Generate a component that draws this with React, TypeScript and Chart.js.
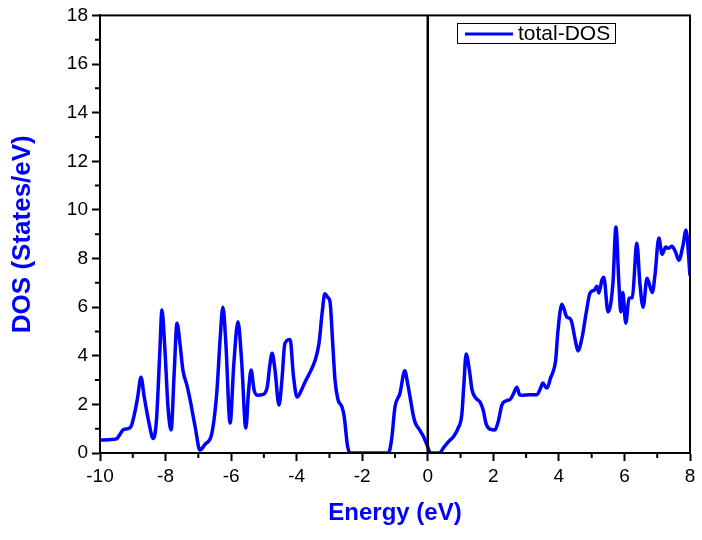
import React, { useEffect, useRef } from "react";
import { Chart, registerables } from "chart.js";

Chart.register(...registerables);

const energy: number[] = [
  -10, -9.7, -9.5, -9.4, -9.3, -9.15, -9.05, -8.95, -8.85, -8.75, -8.65, -8.5, -8.38, -8.28, -8.18, -8.11,
  -8.03, -7.92, -7.83, -7.74, -7.65, -7.56, -7.47, -7.35, -7.25, -7.1, -6.95, -6.8, -6.6, -6.5, -6.43,
  -6.33, -6.25, -6.16, -6.03, -5.92, -5.79, -5.68, -5.55, -5.47, -5.39, -5.3, -5.2, -5.05, -4.9, -4.82,
  -4.75, -4.66, -4.54, -4.45, -4.36, -4.2, -4.1, -3.99, -3.85, -3.75, -3.6, -3.44, -3.32, -3.22, -3.14,
  -3.05, -2.98, -2.9, -2.83, -2.74, -2.62, -2.55, -2.45, -2.37, -1.2, -1.1, -1.0, -0.85, -0.7, -0.62,
  -0.54, -0.45, -0.39, -0.25, -0.14, 0.0, 0.07, 0.35, 0.5, 0.62, 0.8, 0.92, 1.04, 1.1, 1.17, 1.27, 1.35,
  1.47, 1.59, 1.69, 1.78, 1.9, 2.05, 2.15, 2.26, 2.4, 2.51, 2.6, 2.72, 2.8, 2.87, 3.1, 3.33, 3.45, 3.51,
  3.6, 3.64, 3.75, 3.82, 3.9, 3.97, 4.09, 4.24, 4.37, 4.5, 4.58, 4.71, 4.83, 4.95, 5.08, 5.16, 5.22, 5.31,
  5.37, 5.5, 5.65, 5.74, 5.83, 5.89, 5.95, 6.04, 6.14, 6.24, 6.38, 6.47, 6.57, 6.69, 6.85, 6.93, 7.05,
  7.15, 7.26, 7.33, 7.45, 7.55, 7.66, 7.78, 7.88, 8.0,
];

const totalDos: number[] = [
  0.53, 0.55, 0.58, 0.75, 0.95, 1.0, 1.1, 1.6, 2.3, 3.12, 2.3, 1.2, 0.6, 1.3, 4.0, 5.88,
  4.5, 1.8, 0.95, 3.2, 5.34, 4.5, 3.4, 2.8, 2.18, 1.1, 0.12, 0.35, 0.74, 1.6, 2.6,
  4.8, 6.0, 4.5, 1.23, 3.6, 5.4, 3.8, 1.03, 2.5, 3.41, 2.6, 2.38, 2.4, 2.7, 3.6,
  4.1, 3.4, 1.97, 3.0, 4.5, 4.67, 3.2, 2.3, 2.6, 2.9, 3.3, 3.8, 4.5, 5.8, 6.55,
  6.4, 6.2, 4.5, 3.0, 2.2, 1.9, 1.5, 0.3, 0.0, 0.0, 0.6, 1.9, 2.45, 3.38, 2.9,
  2.3, 1.6, 1.27, 0.95, 0.7, 0.25, 0.0, 0.0, 0.25, 0.45, 0.7, 1.0, 1.6, 2.8, 4.07, 3.4, 2.6,
  2.25, 2.1, 1.77, 1.2, 0.98, 0.95, 1.3, 1.97, 2.15, 2.2, 2.4, 2.7, 2.4, 2.38, 2.4, 2.4, 2.7, 2.88,
  2.7, 2.67, 3.1, 3.33, 3.8, 5.0, 6.12, 5.6, 5.47, 4.64, 4.2, 4.77, 5.75, 6.58, 6.7, 6.86, 6.58, 7.1,
  7.23, 5.8, 7.0, 9.3, 7.0, 5.8, 6.6, 5.34, 6.37, 6.4, 8.63, 7.0, 6.0, 7.19, 6.6, 7.3, 8.84,
  8.18, 8.47, 8.42, 8.5, 8.3, 7.93, 8.5, 9.17, 7.3,
];

const seriesLabel = "total-DOS";
const xTitle = "Energy (eV)";
const yTitle = "DOS (States/eV)";
const xMin = -10;
const xMax = 8;
const yMin = 0;
const yMax = 18;
const fermiLevel = 0;

const FONT = "'Liberation Sans', Arial, sans-serif";
const BLUE = "#0000ff";

const framePlugin = {
  id: "frameAndExtras",
  afterDatasetsDraw(chart: any) {
    const { ctx, chartArea } = chart;
    const xs = chart.scales.x;
    const ys = chart.scales.y;
    ctx.save();
    // Fermi level line
    const x0 = xs.getPixelForValue(fermiLevel);
    ctx.strokeStyle = "#000";
    ctx.lineWidth = 2.5;
    ctx.beginPath();
    ctx.moveTo(x0, chartArea.top);
    ctx.lineTo(x0, chartArea.bottom);
    ctx.stroke();
    // frame
    ctx.lineWidth = 2;
    ctx.strokeRect(chartArea.left, chartArea.top, chartArea.right - chartArea.left, chartArea.bottom - chartArea.top);
    // minor ticks
    ctx.beginPath();
    for (let v = xMin + 1; v < xMax; v += 2) {
      const px = xs.getPixelForValue(v);
      ctx.moveTo(px, chartArea.bottom);
      ctx.lineTo(px, chartArea.bottom + 5);
    }
    for (let v = yMin + 1; v < yMax; v += 2) {
      const py = ys.getPixelForValue(v);
      ctx.moveTo(chartArea.left, py);
      ctx.lineTo(chartArea.left - 5, py);
    }
    ctx.stroke();
    // legend
    const bx = 457, by = 23, bw = 158, bh = 20;
    ctx.lineWidth = 1;
    ctx.strokeStyle = "#000";
    ctx.fillStyle = "#fff";
    ctx.fillRect(bx, by, bw, bh);
    ctx.strokeRect(bx + 0.5, by + 0.5, bw, bh);
    ctx.strokeStyle = BLUE;
    ctx.lineWidth = 3;
    ctx.beginPath();
    ctx.moveTo(bx + 8, by + 11);
    ctx.lineTo(bx + 56, by + 11);
    ctx.stroke();
    ctx.fillStyle = "#000";
    ctx.font = `21px ${FONT}`;
    ctx.textBaseline = "middle";
    ctx.textAlign = "left";
    ctx.fillText(chart.data.datasets[0].label, bx + 61, by + 11.5);
    ctx.restore();
  },
};

export default function App() {
  const ref = useRef<HTMLCanvasElement | null>(null);
  useEffect(() => {
    if (!ref.current) return;
    const chart = new Chart(ref.current, {
      type: "line",
      data: {
        datasets: [
          {
            label: seriesLabel,
            data: energy.map((e, i) => ({ x: e, y: totalDos[i] })),
            borderColor: BLUE,
            backgroundColor: BLUE,
            borderWidth: 3.5,
            pointRadius: 0,
            cubicInterpolationMode: "monotone",
            fill: false,
          },
        ],
      },
      options: {
        animation: false,
        responsive: false,
        maintainAspectRatio: false,
        layout: { padding: { left: 0, right: 12, top: 15, bottom: 0 } },
        plugins: { legend: { display: false }, tooltip: { enabled: false } },
        scales: {
          x: {
            type: "linear",
            min: xMin,
            max: xMax,
            ticks: { stepSize: 2, color: "#000", font: { family: FONT, size: 19 }, padding: 4, maxRotation: 0 },
            grid: { display: true, drawOnChartArea: false, drawTicks: true, tickLength: 8, tickWidth: 2, tickColor: "#000" },
            border: { display: true, color: "#000", width: 2 },
            title: {
              display: true,
              text: xTitle,
              color: BLUE,
              font: { family: FONT, size: 24, weight: "bold" },
              padding: { top: 0, bottom: 12 },
            },
            afterFit: (s: any) => {
              s.height = 87;
            },
          },
          y: {
            type: "linear",
            min: yMin,
            max: yMax,
            ticks: { stepSize: 2, color: "#000", font: { family: FONT, size: 19 }, padding: 4 },
            grid: { display: true, drawOnChartArea: false, drawTicks: true, tickLength: 8, tickWidth: 2, tickColor: "#000" },
            border: { display: true, color: "#000", width: 2 },
            title: {
              display: true,
              text: yTitle,
              color: BLUE,
              font: { family: FONT, size: 26, weight: "bold" },
              padding: { top: 7, bottom: 0 },
            },
            afterFit: (s: any) => {
              s.width = 100;
            },
          },
        },
      } as any,
      plugins: [framePlugin],
    });
    return () => chart.destroy();
  }, []);
  return (
    <div style={{ position: "fixed", left: 0, top: 0, width: 702, height: 540, background: "#fff" }}>
      <canvas ref={ref} width={702} height={540} />
    </div>
  );
}
